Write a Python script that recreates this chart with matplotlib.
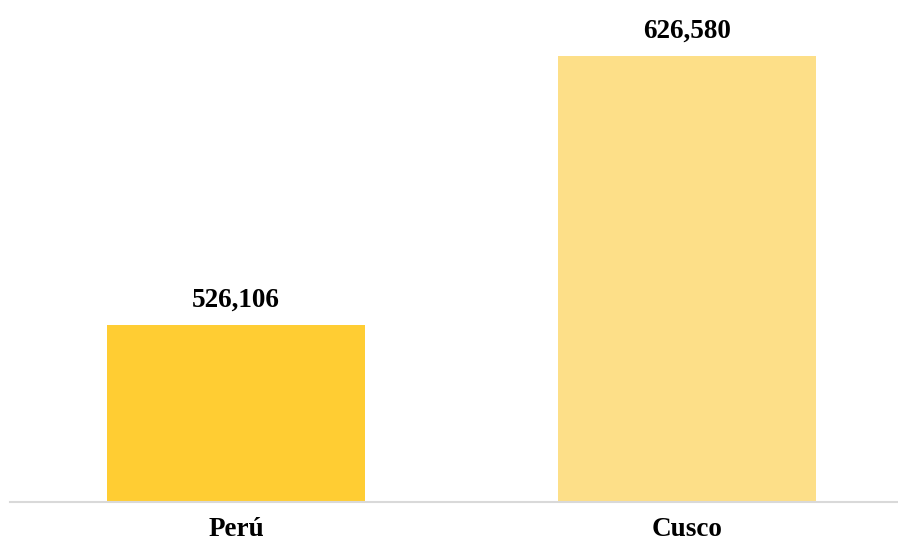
import matplotlib.pyplot as plt

regiones = ["Perú", "Cusco"]
valores = [526106, 626580]
colores = ["#FFCD33", "#FDDF88"]

plt.rcParams['font.family'] = ['Liberation Serif', 'DejaVu Serif']

fig = plt.figure(figsize=(8.98, 5.45), dpi=100)
ax = fig.add_axes([10 / 898, 1 - 502 / 545, 888 / 898, 482 / 545])

x = range(len(regiones))
barras = ax.bar(x, valores, width=0.572, color=colores, zorder=2)

for b, v in zip(barras, valores):
    ax.annotate(f"{v:,}", (b.get_x() + b.get_width() / 2, v),
                xytext=(0, 9), textcoords="offset points",
                ha="center", va="bottom", fontsize=19.5, fontweight="bold")

ax.set_ylim(460000, 640000)
ax.set_xlim(-0.501, 1.468)
ax.set_xticks(list(x))
ax.set_xticklabels(regiones, fontsize=19.5, fontweight="bold")
ax.tick_params(axis="x", length=0, pad=11)
ax.set_yticks([])

for s in ["top", "right", "left"]:
    ax.spines[s].set_visible(False)
ax.spines["bottom"].set_color("#d9d9d9")
ax.spines["bottom"].set_linewidth(1.5)

fig.savefig("out.png", dpi=100)
